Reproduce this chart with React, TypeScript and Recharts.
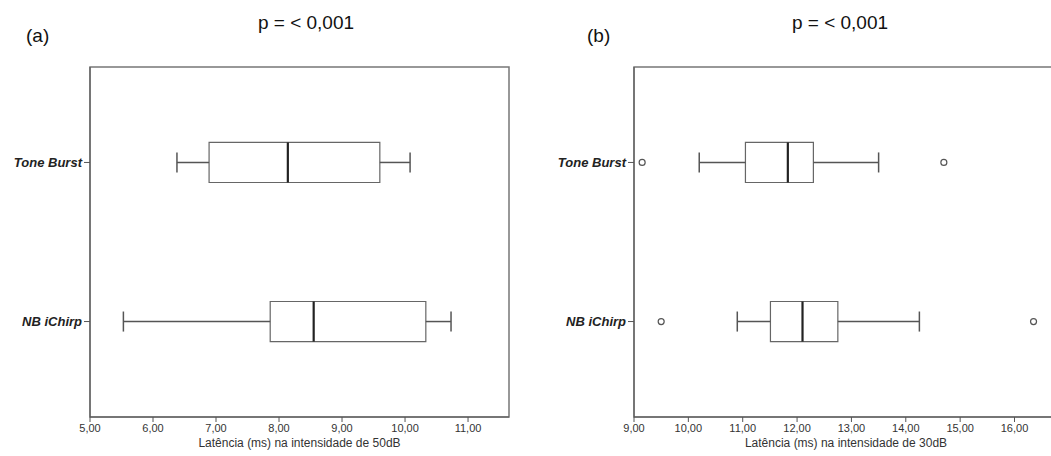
import React from 'react';
import {
  ScatterChart,
  Scatter,
  XAxis,
  YAxis,
  ReferenceArea,
  ReferenceLine,
} from 'recharts';

// groups (Tone Burst on top, NB iChirp below)
const groups = ['Tone Burst', 'NB iChirp'];
const groupPos = [2, 1];
const yDomain: [number, number] = [0.4, 2.6];

// (a) latency at 50dB
const lowA = [6.38, 5.53];
const q1A = [6.89, 7.86];
const medA = [8.14, 8.55];
const q3A = [9.6, 10.33];
const highA = [10.08, 10.73];
const outliersA: number[][] = [[], []];
const ticksA = [5, 6, 7, 8, 9, 10, 11];

// (b) latency at 30dB
const lowB = [10.2, 10.9];
const q1B = [11.05, 11.51];
const medB = [11.83, 12.1];
const q3B = [12.3, 12.75];
const highB = [13.5, 14.25];
const outliersB = [[9.15, 14.7], [9.5, 16.35]];
const ticksB = [9, 10, 11, 12, 13, 14, 15, 16];

const BOX_HALF = 0.126;
const CAP_HALF = 0.063;
const font = '"Liberation Sans", Arial, sans-serif';

const fmt = (v: number) => v.toFixed(2).replace('.', ',');
const yLabel = (v: number) => groups[groupPos.indexOf(v)] ?? '';

type PanelProps = {
  width: number;
  domain: [number, number];
  ticks: number[];
  low: number[];
  q1: number[];
  med: number[];
  q3: number[];
  high: number[];
  outliers: number[][];
  xLabel: string;
  rightMargin: number;
};

const BoxPanel: React.FC<PanelProps> = (p) => {
  const outlierData = p.outliers.flatMap((vals, i) =>
    vals.map((x) => ({ x, y: groupPos[i] }))
  );
  // medians as plain points so the chart always has data to lay out
  const medianData = p.med.map((x, i) => ({ x, y: groupPos[i] }));
  return (
    <ScatterChart
      width={p.width}
      height={456}
      margin={{ top: 67, right: p.rightMargin, bottom: 0, left: 0 }}
    >
      <XAxis
        type="number"
        dataKey="x"
        domain={p.domain}
        ticks={p.ticks}
        allowDataOverflow
        tickFormatter={fmt}
        height={39}
        tickSize={5}
        tickMargin={2}
        stroke="#555"
        tick={{ fill: '#333', fontSize: 11, fontFamily: font }}
        label={{
          value: p.xLabel,
          position: 'insideBottom',
          offset: 9,
          fill: '#333',
          fontSize: 12,
          fontFamily: font,
        }}
      />
      <YAxis
        type="number"
        dataKey="y"
        domain={yDomain}
        ticks={groupPos}
        tickFormatter={yLabel}
        width={90}
        tickSize={6}
        tickMargin={2}
        stroke="#555"
        tick={{ fill: '#222', fontSize: 13, fontWeight: 'bold', fontStyle: 'italic', fontFamily: font }}
      />
      <ReferenceArea
        x1={p.domain[0]}
        x2={p.domain[1]}
        y1={yDomain[0]}
        y2={yDomain[1]}
        fill="none"
        stroke="#777"
        strokeWidth={1.5}
      />
      {groupPos.map((y, i) => (
        <React.Fragment key={groups[i]}>
          <ReferenceLine segment={[{ x: p.low[i], y }, { x: p.q1[i], y }]} stroke="#555" strokeWidth={1.5} />
          <ReferenceLine segment={[{ x: p.q3[i], y }, { x: p.high[i], y }]} stroke="#555" strokeWidth={1.5} />
          <ReferenceLine
            segment={[{ x: p.low[i], y: y - CAP_HALF }, { x: p.low[i], y: y + CAP_HALF }]}
            stroke="#555"
            strokeWidth={1.5}
          />
          <ReferenceLine
            segment={[{ x: p.high[i], y: y - CAP_HALF }, { x: p.high[i], y: y + CAP_HALF }]}
            stroke="#555"
            strokeWidth={1.5}
          />
          <ReferenceArea
            x1={p.q1[i]}
            x2={p.q3[i]}
            y1={y - BOX_HALF}
            y2={y + BOX_HALF}
            fill="#fff"
            fillOpacity={1}
            stroke="#666"
            strokeWidth={1.2}
          />
          <ReferenceLine
            segment={[{ x: p.med[i], y: y - BOX_HALF }, { x: p.med[i], y: y + BOX_HALF }]}
            stroke="#222"
            strokeWidth={2.2}
          />
        </React.Fragment>
      ))}
      <Scatter data={medianData} isAnimationActive={false} shape={() => <g />} />
      <Scatter
        data={outlierData}
        isAnimationActive={false}
        shape={(s: any) => <circle cx={s.cx} cy={s.cy} r={3} fill="#fff" stroke="#555" strokeWidth={1.2} />}
      />
    </ScatterChart>
  );
};

const textStyle: React.CSSProperties = {
  position: 'absolute',
  fontFamily: font,
  fontSize: 19,
  color: '#111',
  lineHeight: 1,
  whiteSpace: 'nowrap',
};

export default function App() {
  return (
    <div
      style={{
        position: 'absolute',
        left: 0,
        top: 0,
        width: 1051,
        height: 456,
        overflow: 'hidden',
        background: '#fff',
      }}
    >
      <div style={{ position: 'absolute', left: 0, top: 0 }}>
        <BoxPanel
          width={530}
          domain={[5, 11.65]}
          ticks={ticksA}
          low={lowA}
          q1={q1A}
          med={medA}
          q3={q3A}
          high={highA}
          outliers={outliersA}
          xLabel="Latência (ms) na intensidade de 50dB"
          rightMargin={21}
        />
      </div>
      <div style={{ position: 'absolute', left: 544, top: 0 }}>
        <BoxPanel
          width={514}
          domain={[9, 16.8]}
          ticks={ticksB}
          low={lowB}
          q1={q1B}
          med={medB}
          q3={q3B}
          high={highB}
          outliers={outliersB}
          xLabel="Latência (ms) na intensidade de 30dB"
          rightMargin={0}
        />
      </div>
      <div style={{ ...textStyle, left: 26, top: 26 }}>(a)</div>
      <div style={{ ...textStyle, left: 306, top: 13, transform: 'translateX(-50%)' }}>p = &lt; 0,001</div>
      <div style={{ ...textStyle, left: 587, top: 26 }}>(b)</div>
      <div style={{ ...textStyle, left: 840, top: 13, transform: 'translateX(-50%)' }}>p = &lt; 0,001</div>
    </div>
  );
}
